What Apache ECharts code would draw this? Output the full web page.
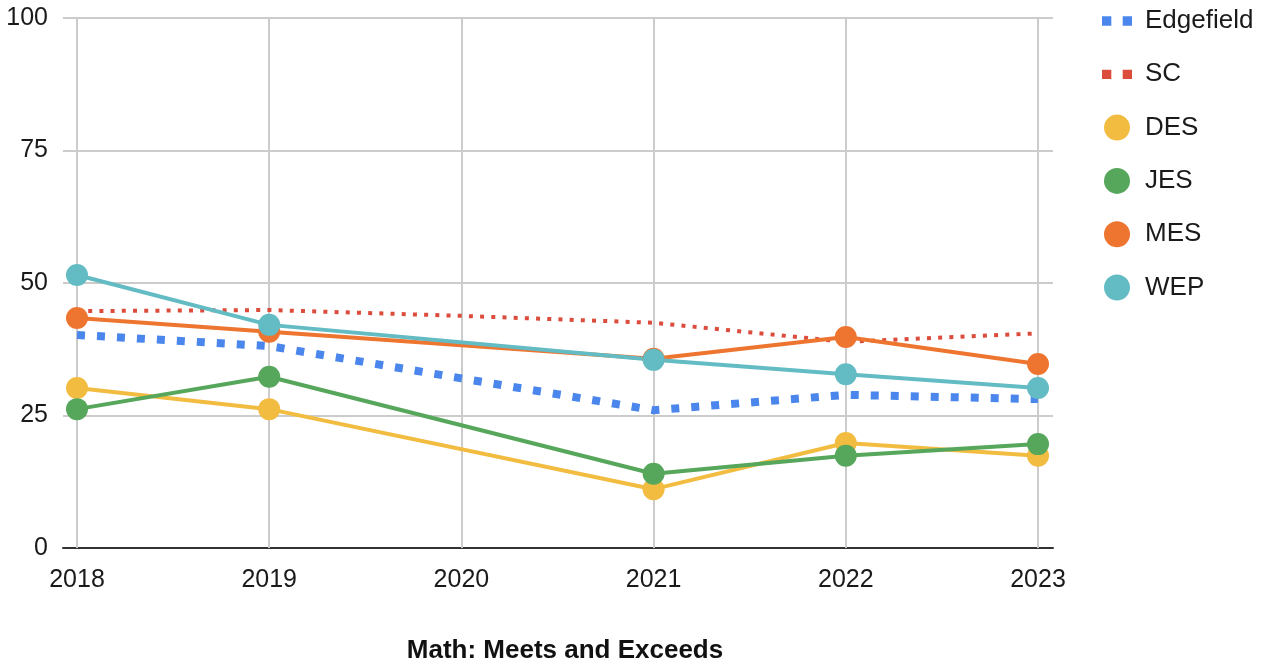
<!DOCTYPE html>
<html>
<head>
<meta charset="utf-8">
<script src="https://cdn.jsdelivr.net/npm/echarts@6/dist/echarts.min.js"></script>
<style>
html,body{margin:0;padding:0;background:#fff;}
#chart{width:1266px;height:665px;}
</style>
</head>
<body>
<div id="chart"></div>
<script>
const years = ['2018', '2019', '2020', '2021', '2022', '2023'];
const yTicks = [0, 25, 50, 75, 100];
const edgefield = [40.2, 38.1, 32.0, 26.0, 28.9, 28.1];
const sc = [44.7, 44.9, 43.8, 42.5, 38.9, 40.5];
const des = [30.2, 26.2, null, 11.1, 19.8, 17.4];
const jes = [26.2, 32.3, null, 14.0, 17.4, 19.6];
const mes = [43.4, 40.8, null, 35.7, 39.8, 34.7];
const wep = [51.5, 42.1, null, 35.5, 32.8, 30.2];
const titleText = 'Math: Meets and Exceeds';

const colors = {
  Edgefield: '#4a86ec',
  SC: '#dc4c3c',
  DES: '#f2bc40',
  JES: '#56a75b',
  MES: '#ee7530',
  WEP: '#63bbc3'
};

const font = 'Liberation Sans, Arial, sans-serif';

function schoolSeries(name, data) {
  return {
    name: name, type: 'line', data: data, xAxisIndex: 1, yAxisIndex: 1,
    connectNulls: true, symbol: 'circle', symbolSize: 22, showSymbol: true,
    lineStyle: {color: colors[name], width: 4},
    itemStyle: {color: colors[name]},
    emphasis: {disabled: true}, animation: false
  };
}

const chart = echarts.init(document.getElementById('chart'));
chart.setOption({
  animation: false,
  textStyle: {fontFamily: font},
  title: {
    text: titleText, left: 560, top: 633, textAlign: 'center',
    textStyle: {fontFamily: font, fontSize: 26, fontWeight: 'bold', color: '#111'}
  },
  legend: {
    orient: 'vertical', left: 1097, top: 3,
    itemWidth: 30, itemHeight: 26, itemGap: 27.3,
    textStyle: {fontFamily: font, fontSize: 26, color: '#1a1a1a', padding: [0, 0, 0, 8]},
    data: [
      {name: 'Edgefield', icon: 'path://M0,0h9v9h-9z M20,0h9v9h-9z', itemStyle: {color: colors.Edgefield}},
      {name: 'SC', icon: 'path://M0,0h9v9h-9z M20,0h9v9h-9z', itemStyle: {color: colors.SC}},
      {name: 'DES', icon: 'circle'},
      {name: 'JES', icon: 'circle'},
      {name: 'MES', icon: 'circle'},
      {name: 'WEP', icon: 'circle'}
    ]
  },
  grid: [
    {left: 63, right: 213, top: 18, bottom: 117},
    {left: 77, right: 228, top: 18, bottom: 117}
  ],
  xAxis: [
    {
      type: 'value', gridIndex: 0, min: 0, max: 1,
      axisLine: {show: true, lineStyle: {color: '#333', width: 2}},
      axisTick: {show: false}, axisLabel: {show: false}, splitLine: {show: false}
    },
    {
      type: 'category', gridIndex: 1, data: years, boundaryGap: false,
      axisLine: {show: false}, axisTick: {show: false},
      axisLabel: {fontFamily: font, fontSize: 25, color: '#1a1a1a', margin: 20},
      splitLine: {show: true, lineStyle: {color: '#cccccc', width: 2}},
      z: 1
    }
  ],
  yAxis: [
    {
      type: 'value', gridIndex: 0, min: yTicks[0], max: yTicks[yTicks.length - 1], interval: 25,
      axisLine: {show: false}, axisTick: {show: false},
      axisLabel: {fontFamily: font, fontSize: 25, color: '#1a1a1a', margin: 15},
      splitLine: {show: true, lineStyle: {color: '#cccccc', width: 2}}
    },
    {
      type: 'value', gridIndex: 1, min: 0, max: 100, interval: 25,
      axisLine: {show: false}, axisTick: {show: false}, axisLabel: {show: false},
      splitLine: {show: false}
    }
  ],
  series: [
    {
      name: 'Edgefield', type: 'line', data: edgefield, xAxisIndex: 1, yAxisIndex: 1,
      showSymbol: false, symbol: 'none',
      lineStyle: {color: colors.Edgefield, width: 8, type: [8, 12], cap: 'butt'},
      itemStyle: {color: colors.Edgefield}, emphasis: {disabled: true}
    },
    {
      name: 'SC', type: 'line', data: sc, xAxisIndex: 1, yAxisIndex: 1,
      showSymbol: false, symbol: 'none',
      lineStyle: {color: colors.SC, width: 4, type: [4, 7.2], cap: 'butt'},
      itemStyle: {color: colors.SC}, emphasis: {disabled: true}
    },
    schoolSeries('DES', des),
    schoolSeries('JES', jes),
    schoolSeries('MES', mes),
    schoolSeries('WEP', wep)
  ]
});
</script>
</body>
</html>
